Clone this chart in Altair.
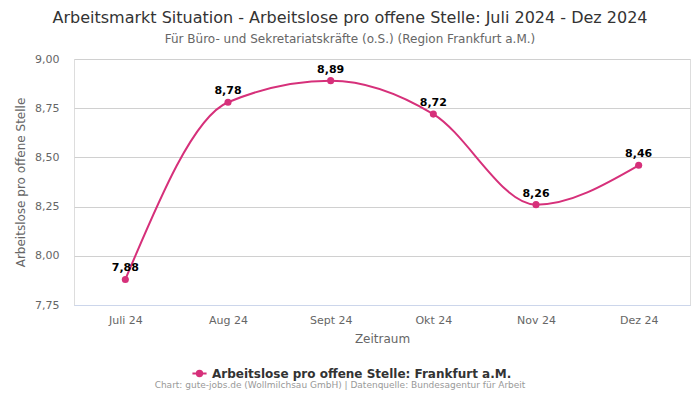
import altair as alt
import pandas as pd

months = ["Juli 24", "Aug 24", "Sept 24", "Okt 24", "Nov 24", "Dez 24"]
values = [7.88, 8.78, 8.89, 8.72, 8.26, 8.46]
series_name = "Arbeitslose pro offene Stelle: Frankfurt a.M."
y_ticks = [7.75, 8.0, 8.25, 8.5, 8.75, 9.0]

COLOR = "#d6307a"
FONT = "DejaVu Sans"

df = pd.DataFrame({"monat": months, "wert": values, "serie": series_name})

x = alt.X("monat:N", sort=months, title="Zeitraum",
          scale=alt.Scale(paddingInner=0, paddingOuter=0),
          axis=alt.Axis(labelAngle=0, labelColor="#666", labelFontSize=11, labelFont=FONT,
                        titleColor="#666", titleFontSize=12, titleFont=FONT, titleFontWeight="normal",
                        ticks=False, domainColor="#ccd6eb", labelPadding=9, titlePadding=8))
y = alt.Y("wert:Q", title="Arbeitslose pro offene Stelle",
          scale=alt.Scale(domain=[7.75, 9.0], nice=False, zero=False),
          axis=alt.Axis(values=y_ticks, labelExpr="replace(format(datum.value, '.2f'), '.', ',')",
                        labelColor="#666", labelFontSize=11, labelFont=FONT,
                        titleColor="#666", titleFontSize=12, titleFont=FONT, titleFontWeight="normal",
                        ticks=False, domain=False, gridColor="#d0d0d0", labelPadding=15, titlePadding=7))

color = alt.Color("serie:N", scale=alt.Scale(range=[COLOR]),
                  legend=alt.Legend(title=None, orient="none", legendX=117, legendY=306,
                                    symbolType="M-1,0H1M-0.38,0a0.38,0.38 0 1,0 0.76,0a0.38,0.38 0 1,0 -0.76,0",
                                    symbolStrokeWidth=2, symbolSize=200, symbolFillColor=COLOR,
                                    labelFont=FONT, labelFontSize=12, labelFontWeight="bold",
                                    labelColor="#333", labelLimit=500))

base = alt.Chart(df)
line = base.mark_line(interpolate="monotone", strokeWidth=2).encode(x=x, y=y, color=color)
pts = base.mark_circle(size=50, opacity=1).encode(x=x, y=y, color=alt.Color("serie:N", legend=None, scale=alt.Scale(range=[COLOR])))
labels = base.transform_calculate(
    lab="replace(format(datum.wert, '.2f'), '.', ',')"
).mark_text(dy=-11, fontWeight="bold", fontSize=11, font=FONT, color="#000").encode(
    x=x, y=y, text="lab:N")

credit = alt.Chart(pd.DataFrame({"t": ["Chart: gute-jobs.de (Wollmilchsau GmbH) | Datenquelle: Bundesagentur für Arbeit"]})).mark_text(
    fontSize=9, font=FONT, color="#999"
).encode(x=alt.value(266), y=alt.value(326), text="t:N")

chart = alt.layer(line, pts, labels, credit).properties(
    width=616, height=246,
    padding={"left": 66, "top": 51, "right": 2, "bottom": 87},
    autosize=alt.AutoSizeParams(type="none"),
    title=alt.TitleParams(
        text="Arbeitsmarkt Situation - Arbeitslose pro offene Stelle: Juli 2024 - Dez 2024",
        subtitle="Für Büro- und Sekretariatskräfte (o.S.) (Region Frankfurt a.M.)",
        font=FONT, fontSize=16, fontWeight="normal", color="#333",
        subtitleFont=FONT, subtitleFontSize=12, subtitleColor="#666",
        anchor="middle", dx=-32, offset=8, subtitlePadding=8)
).configure_view(stroke=None).configure(background="white")

chart.save("out.html", embed_options={"renderer": "svg", "actions": False})
